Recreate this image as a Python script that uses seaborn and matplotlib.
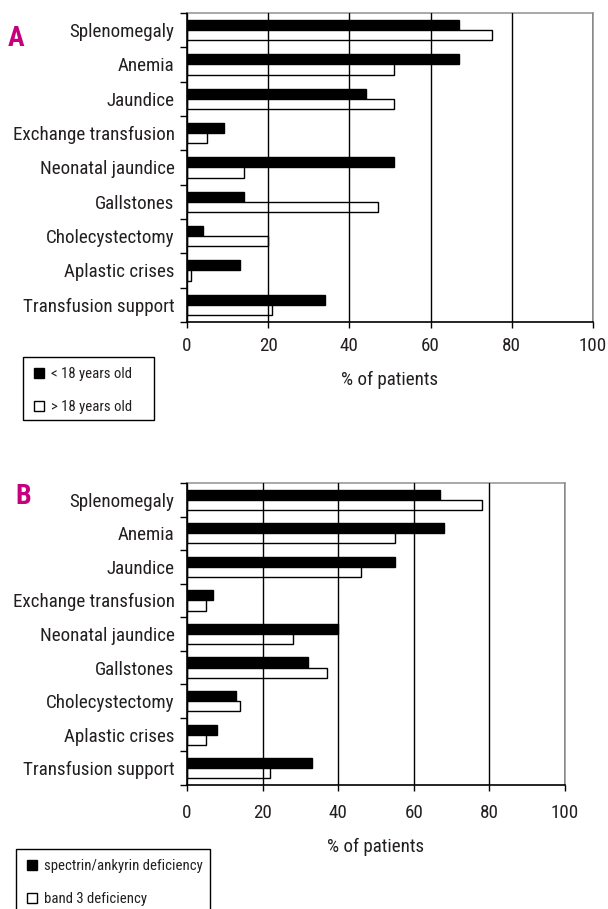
import seaborn as sns
import matplotlib.pyplot as plt
import pandas as pd
from matplotlib import font_manager as fm
from matplotlib.lines import Line2D
from matplotlib.patches import Rectangle

categories = ['Splenomegaly', 'Anemia', 'Jaundice', 'Exchange transfusion',
              'Neonatal jaundice', 'Gallstones', 'Cholecystectomy',
              'Aplastic crises', 'Transfusion support']

# panel A: by age
a_groups = ['< 18 years old', '> 18 years old']
a_under18 = [67, 67, 44, 9, 51, 14, 4, 13, 34]
a_over18 = [75, 51, 51, 5, 14, 47, 20, 1, 21]

# panel B: by membrane defect
b_groups = ['spectrin/ankyrin deficiency', 'band 3 deficiency']
b_spectrin = [67, 68, 55, 7, 40, 32, 13, 8, 33]
b_band3 = [78, 55, 46, 5, 28, 37, 14, 5, 22]

ticks = [0, 20, 40, 60, 80, 100]

sns.set_theme(style='white')

# the original uses a condensed face; take one if any is installed
fam, stretch = 'DejaVu Sans', 'normal'
narrow = [f for f in fm.fontManager.ttflist
          if f.stretch in ('condensed', 'semi-condensed', 'extra-condensed')
          or 'Condensed' in f.name or 'Narrow' in f.name]
for pref in ['Liberation Sans Narrow', 'Roboto Condensed', 'Open Sans Condensed',
             'Noto Sans Condensed', 'DejaVu Sans Condensed', 'DejaVu Sans']:
    hit = [f for f in narrow if f.name == pref]
    if hit:
        fam, stretch = hit[0].name, hit[0].stretch
        break
plt.rcParams['font.family'] = [fam, 'DejaVu Sans']
plt.rcParams['font.stretch'] = stretch
TXT = '#231f20'
MAGENTA = '#c4007c'


def long_df(groups, first, second):
    return pd.DataFrame({
        'symptom': categories * 2,
        'pct': first + second,
        'group': [groups[0]] * len(categories) + [groups[1]] * len(categories),
    })


fig = plt.figure(figsize=(6.08, 9.09), dpi=100)
W, H = 608, 909
renderer = fig.canvas.get_renderer()


def fit_size(text, px):
    t = fig.text(0, 0, text, fontsize=10)
    w = t.get_window_extent(renderer).width
    t.remove()
    return 10 * px / w


LABEL_FS = fit_size('Exchange transfusion', 162)
LEG_FS = fit_size('spectrin/ankyrin deficiency', 156)

ax_a = fig.add_axes([187 / W, 1 - 322 / H, 406 / W, 309 / H])
ax_b = fig.add_axes([187 / W, 1 - 785 / H, 378 / W, 302 / H])

# axes, data, groups, letter, letter centre, legend box (x0, y0, x1, y1), tick pad, spacing
panels = [
    (ax_a, long_df(a_groups, a_under18, a_over18), a_groups, 'A', (16, 38),
     (23, 357, 154, 420), 7, 1.3),
    (ax_b, long_df(b_groups, b_spectrin, b_band3), b_groups, 'B', (23, 497),
     (16, 849, 210, 940), 10, 1.25),
]

for ax, df, groups, letter, lpos, box, tpad, lsp in panels:
    sns.barplot(data=df, x='pct', y='symptom', hue='group', hue_order=groups,
                order=categories, orient='h', width=0.6, gap=0,
                palette=['black', 'white'], edgecolor='black', linewidth=1,
                saturation=1, legend=False, ax=ax)
    ax.set_xlim(0, 100)
    ax.set_ylim(8.5, -0.5)
    ax.set_xticks(ticks)
    ax.set_xlabel('% of patients', fontsize=LABEL_FS, color=TXT, labelpad=11)
    ax.set_ylabel('')
    ax.xaxis.grid(True, color='black', linewidth=1)
    ax.yaxis.grid(False)
    ax.set_axisbelow(False)
    for side in ['top', 'right']:
        ax.spines[side].set_color('#9a9a9a')
        ax.spines[side].set_linewidth(1.2)
    for side in ['left', 'bottom']:
        ax.spines[side].set_color('black')
        ax.spines[side].set_linewidth(1.2)
    ax.tick_params(axis='x', direction='out', length=4, width=1, color='black',
                   bottom=True, labelsize=LABEL_FS, labelcolor=TXT, pad=tpad)
    ax.tick_params(axis='y', which='major', length=0, labelsize=LABEL_FS,
                   labelcolor=TXT, pad=9)
    ax.set_yticks([i - 0.5 for i in range(len(categories) + 1)], minor=True)
    ax.tick_params(axis='y', which='minor', direction='out', length=5, width=1,
                   color='black', left=True)

    fig.text(lpos[0] / W, 1 - lpos[1] / H, letter, fontsize=20, fontweight='bold',
             color=MAGENTA, ha='center', va='center')

    handles = [Line2D([], [], marker='s', linestyle='none', markersize=7,
                      markerfacecolor=c, markeredgecolor='black', markeredgewidth=1)
               for c in ['black', 'white']]
    fig.legend(handles, groups, loc='upper left',
               bbox_to_anchor=(box[0] / W, 1 - box[1] / H),
               borderaxespad=0, fontsize=LEG_FS, frameon=False,
               handlelength=0.8, handletextpad=0.4, labelspacing=lsp,
               borderpad=0.7, labelcolor=TXT)
    fig.add_artist(Rectangle((box[0] / W, 1 - box[3] / H),
                             (box[2] - box[0]) / W, (box[3] - box[1]) / H,
                             transform=fig.transFigure, fill=False,
                             edgecolor='black', linewidth=1))

fig.savefig('out.png', dpi=100)
